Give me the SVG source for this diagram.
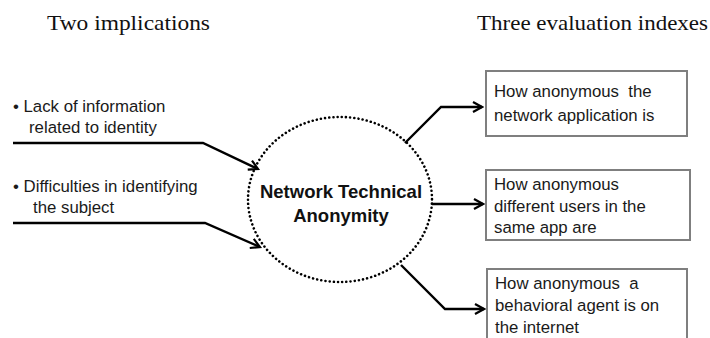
<svg xmlns="http://www.w3.org/2000/svg" width="710" height="338" viewBox="0 0 710 338">
<style>
.title{font-family:"Liberation Serif",serif;font-size:22px;fill:#111}
.txt{font-family:"Liberation Sans",Arial,sans-serif;font-size:16.8px;fill:#1a1a1a}
.center{font-family:"Liberation Sans",Arial,sans-serif;font-size:18.5px;font-weight:bold;fill:#111;text-anchor:middle}
.box{fill:#fff;stroke:#7f7f7f;stroke-width:2}
.conn{fill:none;stroke:#000;stroke-width:2.4}
</style>
<defs>
<marker id="arr" viewBox="0 0 12 12" refX="10" refY="6" markerWidth="12" markerHeight="12" markerUnits="userSpaceOnUse" orient="auto">
<path d="M1,1 L10,6 L1,11" fill="none" stroke="#000" stroke-width="2.2"/>
</marker>
</defs>
<rect width="710" height="338" fill="#fff"/>
<text class="title" x="47" y="30" textLength="163" lengthAdjust="spacingAndGlyphs">Two implications</text>
<text class="title" x="477" y="30" textLength="231" lengthAdjust="spacingAndGlyphs">Three evaluation indexes</text>

<g id="impl1">
<text class="txt" x="13" y="112">• Lack of information</text>
<text class="txt" x="29" y="133">related to identity</text>
</g>
<g id="impl2">
<text class="txt" x="13" y="192">• Difficulties in identifying</text>
<text class="txt" x="33" y="213">the subject</text>
</g>

<g id="center">
<ellipse cx="340" cy="199.5" rx="92" ry="82.5" fill="none" stroke="#000" stroke-width="2.6" stroke-dasharray="0.01 4.2" stroke-linecap="round"/>
<text class="center" x="341" y="198">Network Technical</text>
<text class="center" x="341" y="222">Anonymity</text>
</g>

<g id="index1">
<rect class="box" x="486" y="71" width="201" height="65"/>
<text class="txt" x="494" y="97">How anonymous&#160; the</text>
<text class="txt" x="494" y="121">network application is</text>
</g>
<g id="index2">
<rect class="box" x="486" y="170" width="204" height="70"/>
<text class="txt" x="494" y="190">How anonymous</text>
<text class="txt" x="494" y="212">different users in the</text>
<text class="txt" x="494" y="233">same app are</text>
</g>
<g id="index3">
<rect class="box" x="487" y="269" width="200" height="80"/>
<text class="txt" x="495" y="289">How anonymous&#160; a</text>
<text class="txt" x="495" y="311">behavioral agent is on</text>
<text class="txt" x="495" y="333">the internet</text>
</g>

<g id="connectors">
<path class="conn" d="M13,143 H203 L258,169" marker-end="url(#arr)"/>
<path class="conn" d="M13,223 H205 L260,247" marker-end="url(#arr)"/>
<path class="conn" d="M405,143 L441,107 H482" marker-end="url(#arr)"/>
<path class="conn" d="M432,204 H483" marker-end="url(#arr)"/>
<path class="conn" d="M401,265 L445,309 H484" marker-end="url(#arr)"/>
</g>
</svg>
